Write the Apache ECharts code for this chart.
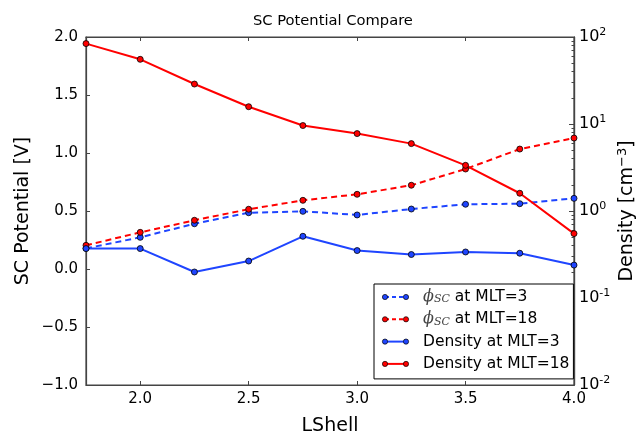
<!DOCTYPE html>
<html>
<head>
<meta charset="utf-8">
<script src="https://cdn.jsdelivr.net/npm/echarts@6/dist/echarts.min.js"></script>
<style>
  html, body { margin: 0; padding: 0; background: #fff; }
  #chart { width: 642px; height: 434px; }
</style>
</head>
<body>
<div id="chart"></div>
<script>
// L-shell sample positions
var lShell = [1.75, 2.0, 2.25, 2.5, 2.75, 3.0, 3.25, 3.5, 3.75, 4.0];

// Spacecraft potential [V]
var phiMLT3  = [0.178, 0.273, 0.390, 0.485, 0.497, 0.466, 0.517, 0.558, 0.563, 0.609];
var phiMLT18 = [0.204, 0.316, 0.420, 0.515, 0.592, 0.644, 0.722, 0.862, 1.034, 1.129];

// Plasma density [cm^-3]
var densMLT3  = [0.37, 0.37, 0.199, 0.266, 0.512, 0.351, 0.316, 0.338, 0.327, 0.239];
var densMLT18 = [84.0, 55.4, 28.8, 15.8, 9.6, 7.76, 5.95, 3.35, 1.6, 0.55];

// Axis ticks
var xTicks = [2.0, 2.5, 3.0, 3.5, 4.0];
var densMajor = [0.01, 0.1, 1, 10, 100];
var densMinor = [];
[0.01, 0.1, 1, 10].forEach(function (d) {
  for (var k = 2; k <= 9; k++) densMinor.push(+(d * k).toPrecision(3));
});

// Legend entries
var legendNames = ['ϕSC at MLT=3', 'ϕSC at MLT=18', 'Density at MLT=3', 'Density at MLT=18'];

var BLUE = '#1f45ff';
var RED = '#ff0000';
var FRAME = '#444';
var FONT = 'DejaVu Sans';

function pairs(xs, ys) {
  return xs.map(function (x, i) { return [x, ys[i]]; });
}

var supExp = { '0.01': '-2', '0.1': '-1', '1': '0', '10': '1', '100': '2' };

function lineSeries(name, color, dashed, yIdx, values) {
  return {
    name: name,
    type: 'line',
    yAxisIndex: yIdx,
    data: pairs(lShell, values),
    symbol: 'circle',
    symbolSize: 6,
    showSymbol: true,
    clip: true,
    animation: false,
    lineStyle: { color: color, width: 2, type: dashed ? [6, 4] : 'solid' },
    itemStyle: { color: color, borderColor: '#000', borderWidth: 0.8 },
    emphasis: { disabled: true }
  };
}

// Legend box geometry (two-marker line samples drawn beside the legend text)
var LEG_LEFT = 374, LEG_TOP = 284, LEG_PAD_TOP = 5, ROW_H = 16, ROW_GAP = 6.3;
var legendSamples = [];
[[BLUE, true], [RED, true], [BLUE, false], [RED, false]].forEach(function (s, i) {
  var y = LEG_TOP + LEG_PAD_TOP + ROW_H / 2 + i * (ROW_H + ROW_GAP);
  legendSamples.push({
    type: 'line', z: 100,
    shape: { x1: 385, y1: y, x2: 406, y2: y },
    style: { stroke: s[0], lineWidth: 2, lineDash: s[1] ? [4, 3] : null }
  });
  [385, 406].forEach(function (cx) {
    legendSamples.push({
      type: 'circle', z: 101,
      shape: { cx: cx, cy: y, r: 2.6 },
      style: { fill: s[0], stroke: '#000', lineWidth: 0.7 }
    });
  });
});

var chart = echarts.init(document.getElementById('chart'), null, { renderer: 'canvas' });

chart.setOption({
  backgroundColor: '#fff',
  animation: false,
  textStyle: { fontFamily: FONT },
  title: {
    text: 'SC Potential Compare',
    left: 248, top: 9,
    textStyle: { fontFamily: FONT, fontSize: 14.7, fontWeight: 'normal', color: '#000' }
  },
  grid: {
    left: 86, right: 68, top: 37, bottom: 49,
    outerBoundsMode: 'none',
    show: true, borderColor: FRAME, borderWidth: 1.2, backgroundColor: 'transparent'
  },
  legend: {
    orient: 'vertical',
    left: LEG_LEFT, top: LEG_TOP,
    backgroundColor: '#fff',
    borderColor: '#000', borderWidth: 1, borderRadius: 0,
    padding: [LEG_PAD_TOP, 4, 7, 10],
    itemWidth: 33, itemHeight: ROW_H, itemGap: ROW_GAP,
    itemStyle: { opacity: 0 },
    lineStyle: { opacity: 0 },
    selectedMode: false,
    formatter: function (name) {
      if (name.indexOf('ϕ') === 0) {
        return '{i|ϕ}{s|SC}{t|' + name.slice(3) + '}';
      }
      return '{t|' + name + '}';
    },
    textStyle: {
      fontFamily: FONT, fontSize: 15.5, color: '#000', lineHeight: ROW_H,
      rich: {
        i: { fontFamily: 'DejaVu Serif', fontStyle: 'italic', fontSize: 16, color: '#444', lineHeight: ROW_H },
        s: { fontFamily: 'DejaVu Serif', fontStyle: 'italic', fontSize: 11, color: '#444', lineHeight: ROW_H, verticalAlign: 'bottom', padding: [5, 0, 0, 0] },
        t: { fontFamily: FONT, fontSize: 15.5, color: '#000', lineHeight: ROW_H }
      }
    },
    data: legendNames
  },
  graphic: legendSamples,
  xAxis: [{
    type: 'value', min: 1.75, max: 4.0, position: 'bottom',
    name: 'LShell', nameLocation: 'middle', nameGap: 32,
    nameTextStyle: { fontFamily: FONT, fontSize: 19, color: '#000' },
    axisLine: { show: true, onZero: false, lineStyle: { color: FRAME, width: 1.2 } },
    axisTick: { show: true, inside: true, length: 4, customValues: xTicks, lineStyle: { color: FRAME } },
    axisLabel: {
      customValues: xTicks, margin: 7, fontFamily: FONT, fontSize: 15, color: '#000',
      formatter: function (v) { return v.toFixed(1); }
    },
    splitLine: { show: false }
  }, {
    type: 'value', min: 1.75, max: 4.0, position: 'top',
    axisLine: { show: true, onZero: false, lineStyle: { color: FRAME, width: 1.2 } },
    axisTick: { show: true, inside: true, length: 4, customValues: xTicks, lineStyle: { color: FRAME } },
    axisLabel: { show: false },
    splitLine: { show: false }
  }],
  yAxis: [{
    type: 'value', min: -1, max: 2, interval: 0.5, position: 'left',
    name: 'SC Potential [V]', nameLocation: 'middle', nameGap: 53, nameRotate: 90,
    nameMoveOverlap: false,
    nameTextStyle: { fontFamily: FONT, fontSize: 19, color: '#000' },
    axisLine: { show: true, onZero: false, lineStyle: { color: FRAME, width: 1.2 } },
    axisTick: { show: true, inside: true, length: 4, lineStyle: { color: FRAME } },
    axisLabel: {
      margin: 8, fontFamily: FONT, fontSize: 15, color: '#000',
      formatter: function (v) { return (v < 0 ? '\u2212' : '') + Math.abs(v).toFixed(1); }
    },
    splitLine: { show: false }
  }, {
    type: 'log', logBase: 10, min: 0.01, max: 100, position: 'right',
    name: 'Density [cm{sup|\u22123}]', nameLocation: 'middle', nameGap: 42, nameRotate: 90,
    nameMoveOverlap: false,
    nameTextStyle: {
      fontFamily: FONT, fontSize: 19, color: '#000',
      rich: { sup: { fontFamily: FONT, fontSize: 13, color: '#000', verticalAlign: 'top', padding: [0, 0, 10, 0] } }
    },
    axisLine: { show: true, onZero: false, lineStyle: { color: FRAME, width: 1.2 } },
    axisTick: { show: true, inside: true, length: 5, customValues: densMajor, lineStyle: { color: FRAME } },
    axisLabel: {
      customValues: densMajor, margin: 5, fontFamily: FONT, fontSize: 16, color: '#000',
      formatter: function (v) {
        var key = String(+v.toPrecision(3));
        return '10{e|' + supExp[key] + '}';
      },
      rich: { e: { fontFamily: FONT, fontSize: 11, color: '#000', verticalAlign: 'top', padding: [0, 0, 9, 0] } }
    },
    splitLine: { show: false }
  }, {
    type: 'log', logBase: 10, min: 0.01, max: 100, position: 'right',
    axisLine: { show: true, onZero: false, lineStyle: { color: FRAME, width: 1.2 } },
    axisTick: { show: true, inside: true, length: 2.5, customValues: densMinor, lineStyle: { color: FRAME } },
    axisLabel: { show: false },
    splitLine: { show: false }
  }],
  series: [
    lineSeries(legendNames[0], BLUE, true, 0, phiMLT3),
    lineSeries(legendNames[1], RED, true, 0, phiMLT18),
    lineSeries(legendNames[2], BLUE, false, 1, densMLT3),
    lineSeries(legendNames[3], RED, false, 1, densMLT18)
  ]
});
</script>
</body>
</html>
